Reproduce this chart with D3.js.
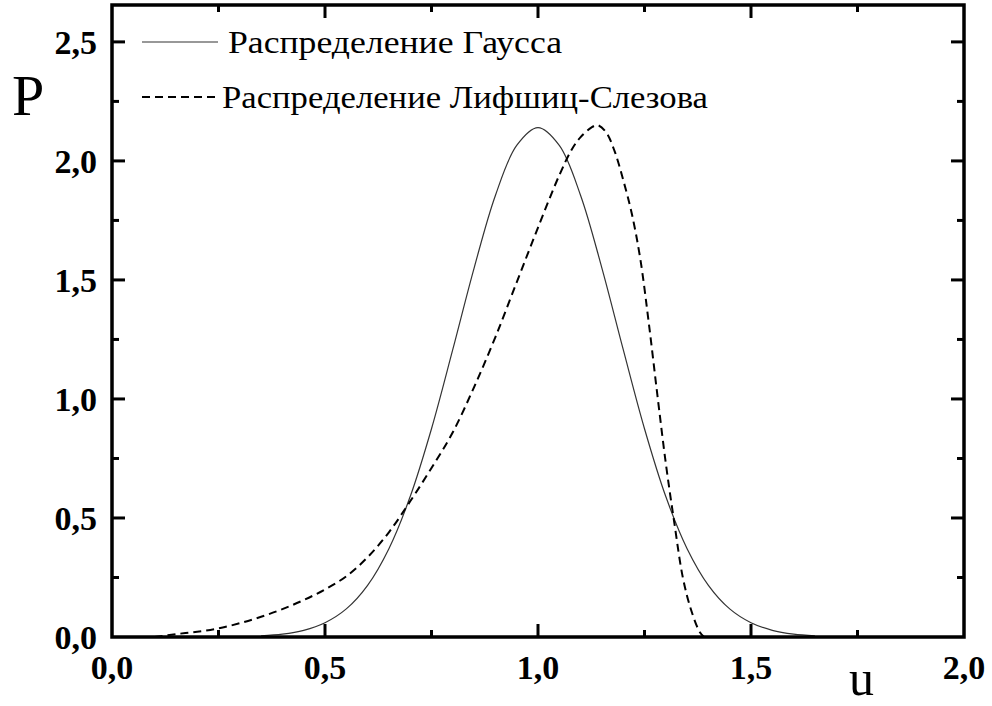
<!DOCTYPE html>
<html>
<head>
<meta charset="utf-8">
<script src="https://cdn.jsdelivr.net/npm/d3@7"></script>
<style>
  html, body { margin: 0; padding: 0; background: #fff; }
  svg { display: block; }
  text { font-family: "Liberation Serif", "Times New Roman", serif; fill: #000; }
</style>
</head>
<body>
<svg id="chart" width="992" height="706"></svg>
<script>
// Gaussian size distribution, P(u)
const gaussU = [0.35, 0.40, 0.45, 0.50, 0.55, 0.60, 0.65, 0.70, 0.75, 0.80, 0.85, 0.90, 0.95, 1.00,
                1.05, 1.10, 1.15, 1.20, 1.25, 1.30, 1.35, 1.40, 1.45, 1.50, 1.55, 1.60, 1.65];
const gaussP = [0.005, 0.012, 0.028, 0.060, 0.118, 0.217, 0.371, 0.590, 0.875, 1.208, 1.55, 1.855, 2.065, 2.14,
                2.065, 1.855, 1.55, 1.208, 0.875, 0.590, 0.371, 0.217, 0.118, 0.060, 0.028, 0.012, 0.005];

// Lifshitz–Slyozov distribution, P(u)
const lsU = [0.10, 0.15, 0.20, 0.25, 0.30, 0.35, 0.40, 0.45, 0.50, 0.55, 0.60, 0.65, 0.70, 0.75, 0.80,
             0.85, 0.90, 0.95, 1.00, 1.05, 1.08, 1.10, 1.125, 1.14, 1.16, 1.18, 1.20, 1.22, 1.24, 1.26,
             1.28, 1.30, 1.32, 1.34, 1.36, 1.38, 1.39];
const lsP = [0.0, 0.012, 0.022, 0.036, 0.058, 0.085, 0.117, 0.155, 0.20, 0.255, 0.335, 0.44, 0.57, 0.71, 0.86,
             1.05, 1.26, 1.49, 1.72, 1.94, 2.05, 2.10, 2.14, 2.15, 2.12, 2.04, 1.92, 1.78, 1.59, 1.32,
             1.02, 0.73, 0.48, 0.25, 0.11, 0.02, 0.0];

const xTickValues = [0, 0.5, 1.0, 1.5, 2.0];
const xTickLabels = ["0,0", "0,5", "1,0", "1,5", "2,0"];
const yTickValues = [0, 0.5, 1.0, 1.5, 2.0, 2.5];
const yTickLabels = ["0,0", "0,5", "1,0", "1,5", "2,0", "2,5"];
const xMinor = [0.25, 0.75, 1.25, 1.75];
const yMinor = [0.25, 0.75, 1.25, 1.75, 2.25];

const legendNames = ["Распределение Гаусса", "Распределение Лифшиц-Слезова"];

const serif = "'Liberation Serif', 'Times New Roman', serif";
const svg = d3.select("#chart");
const plotL = 112, plotR = 964, plotT = 5, plotB = 637;

const x = d3.scaleLinear().domain([0, 2.0]).range([plotL, plotR]);
const y = d3.scaleLinear().domain([0, 2.655]).range([plotB, plotT]);

// tick marks pointing inward on all four sides
const majorLen = 13, minorLen = 7;
const g = svg.append("g").attr("stroke", "#000").attr("stroke-width", 3);

function ticks(vals, len, side) {
  vals.forEach(v => {
    if (side === "bottom") g.append("line").attr("x1", x(v)).attr("x2", x(v)).attr("y1", plotB).attr("y2", plotB - len);
    if (side === "top") g.append("line").attr("x1", x(v)).attr("x2", x(v)).attr("y1", plotT).attr("y2", plotT + len);
    if (side === "left") g.append("line").attr("y1", y(v)).attr("y2", y(v)).attr("x1", plotL).attr("x2", plotL + len);
    if (side === "right") g.append("line").attr("y1", y(v)).attr("y2", y(v)).attr("x1", plotR).attr("x2", plotR - len);
  });
}
["bottom", "top"].forEach(s => { ticks(xTickValues.slice(1, -1), majorLen, s); ticks(xMinor, minorLen, s); });
["left", "right"].forEach(s => { ticks(yTickValues.slice(1), majorLen, s); ticks(yMinor, minorLen, s); });

// curves
const line = d3.line().x(d => x(d[0])).y(d => y(d[1])).curve(d3.curveCatmullRom.alpha(0.5));
svg.append("path")
  .datum(gaussU.map((u, i) => [u, gaussP[i]]))
  .attr("d", line).attr("fill", "none").attr("stroke", "#333").attr("stroke-width", 1.2);
svg.append("path")
  .datum(lsU.map((u, i) => [u, lsP[i]]))
  .attr("d", line).attr("fill", "none").attr("stroke", "#000").attr("stroke-width", 2)
  .attr("stroke-dasharray", "8,5");

// frame
svg.append("rect").attr("x", plotL).attr("y", plotT).attr("width", plotR - plotL).attr("height", plotB - plotT)
  .attr("fill", "none").attr("stroke", "#000").attr("stroke-width", 3.5);

// tick labels
svg.append("g").selectAll("text").data(xTickValues).join("text")
  .attr("x", d => x(d)).attr("y", 679).attr("text-anchor", "middle")
  .attr("font-family", serif).attr("font-size", 34).attr("font-weight", "bold")
  .text((d, i) => xTickLabels[i]);
svg.append("g").selectAll("text").data(yTickValues).join("text")
  .attr("x", 97).attr("y", d => y(d)).attr("dy", "0.35em").attr("text-anchor", "end")
  .attr("font-family", serif).attr("font-size", 34).attr("font-weight", "bold")
  .text((d, i) => yTickLabels[i]);

// axis titles
svg.append("text").attr("x", 12).attr("y", 115).attr("font-family", serif).attr("font-size", 58).text("P");
svg.append("text").attr("x", 849).attr("y", 695).attr("font-family", serif).attr("font-size", 50).text("u");

// legend
const legendY = [42, 97];
const legendTextX = [228, 222];
const legendTextW = [334, 486];
legendNames.forEach((name, i) => {
  const ln = svg.append("line").attr("x1", 142).attr("x2", 218).attr("y1", legendY[i]).attr("y2", legendY[i])
    .attr("stroke", i === 0 ? "#333" : "#000").attr("stroke-width", i === 0 ? 1.2 : 2);
  if (i === 1) ln.attr("stroke-dasharray", "8,5");
  svg.append("text").attr("x", legendTextX[i]).attr("y", legendY[i] + 11)
    .attr("font-family", serif).attr("font-size", 32)
    .attr("textLength", legendTextW[i]).attr("lengthAdjust", "spacingAndGlyphs")
    .text(name);
});
</script>
</body>
</html>
